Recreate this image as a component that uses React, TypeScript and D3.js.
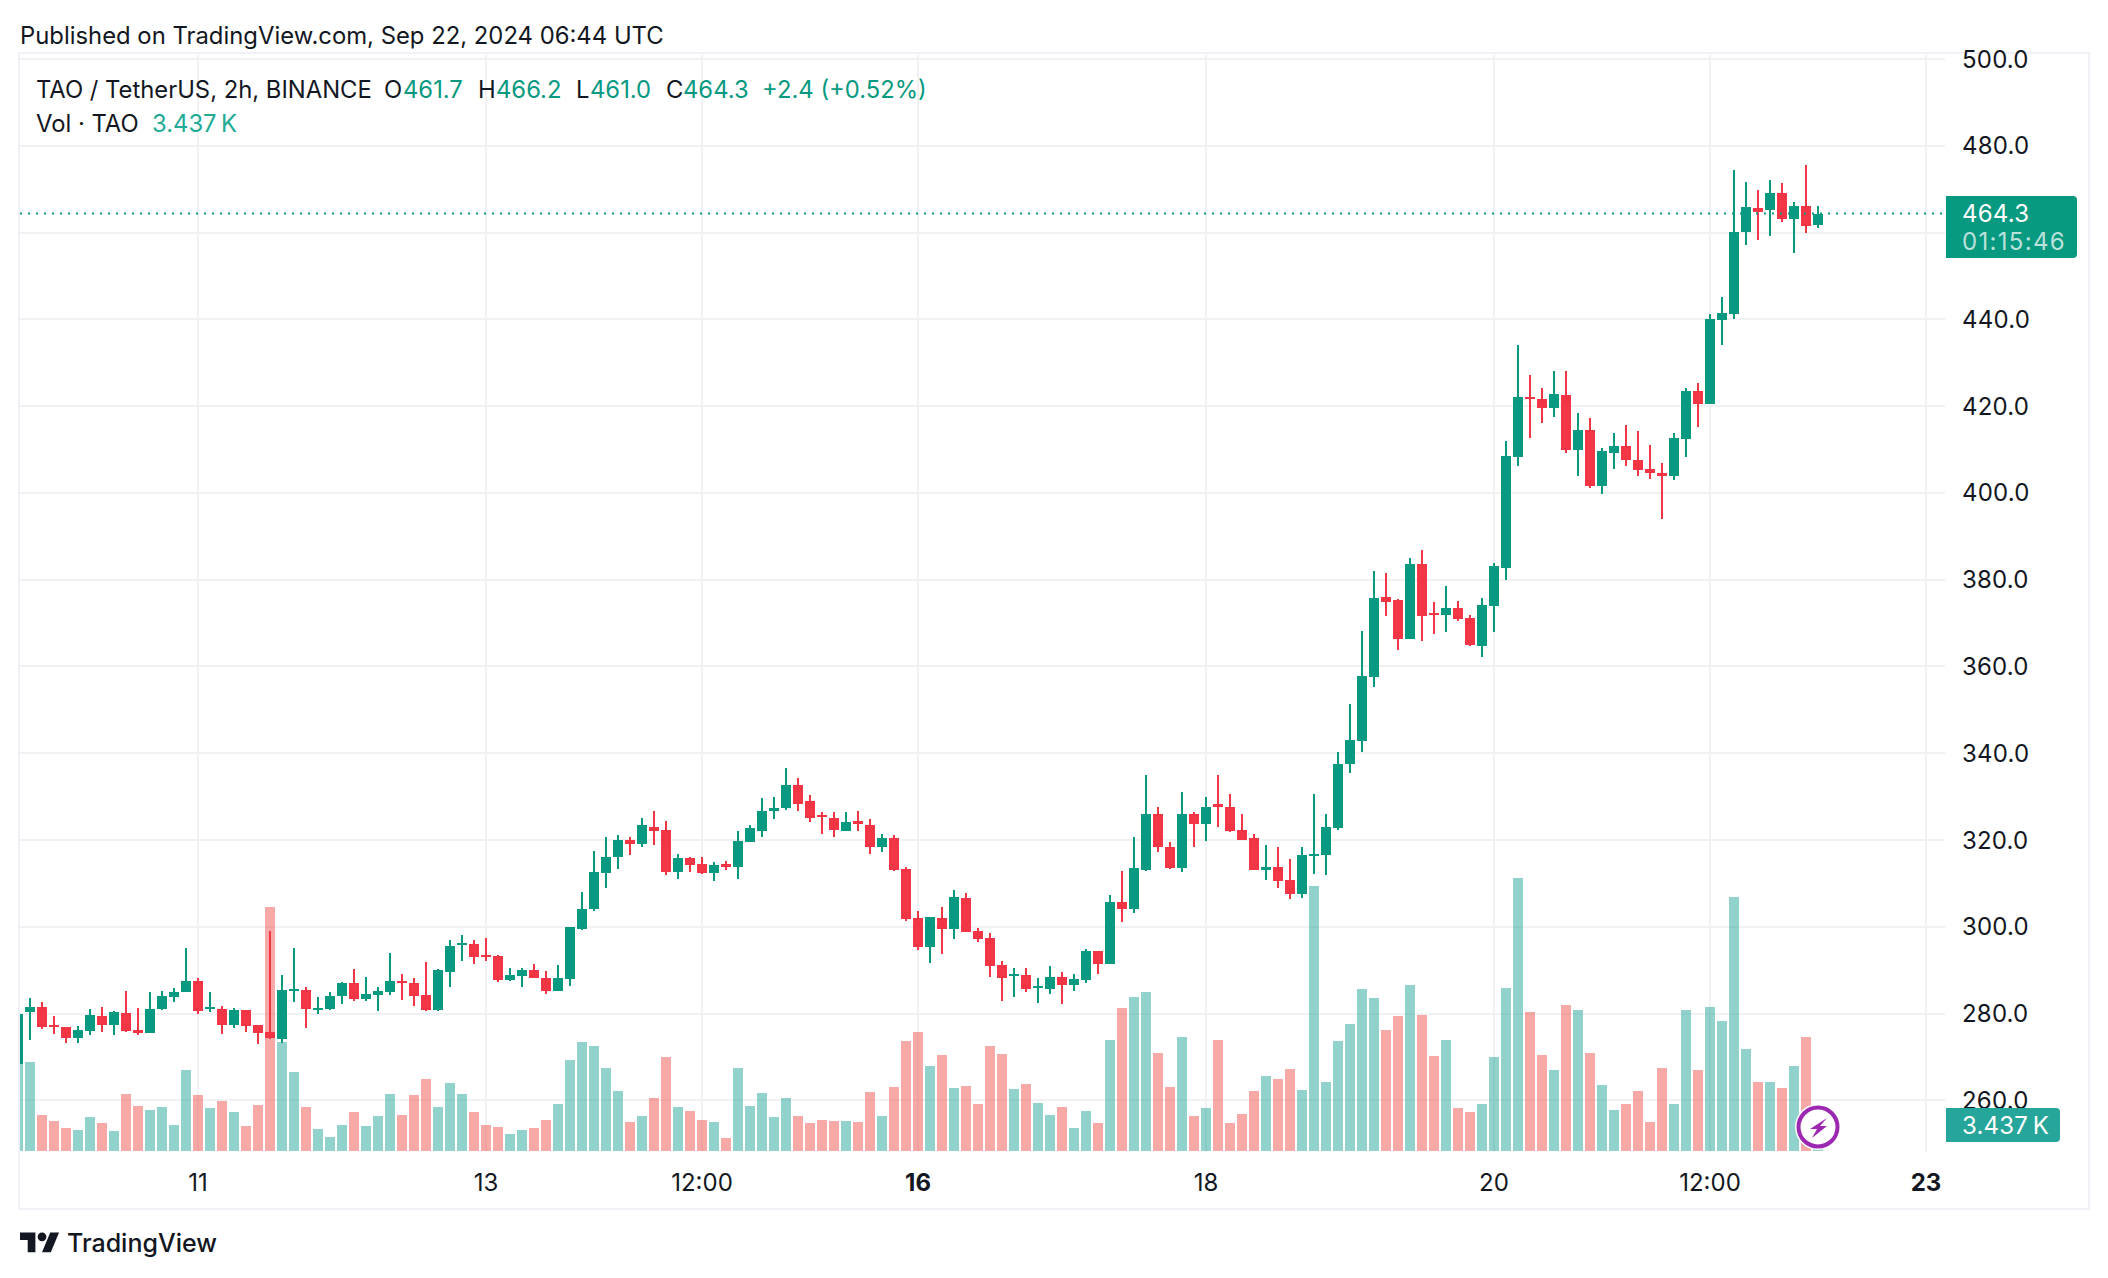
import React from "react";
import * as d3 from "d3";

// First entry is the candle cut off by the left edge.
const opens = [268.5,280.4,281.5,277.4,277.0,274.4,276.0,279.5,277.4,280.2,276.2,275.5,281.1,283.8,285.0,287.5,281.1,281.1,277.4,280.8,277.4,275.8,274.2,285.2,285.5,280.8,281.1,284.1,287.1,283.4,284.3,285.0,287.5,287.1,284.3,
280.8,289.6,295.8,296.0,293.5,293.3,287.7,288.7,290.0,288.2,285.2,288.0,299.5,304.1,312.3,316.0,320.1,319.2,323.1,322.4,312.6,315.8,314.4,312.3,314.4,313.7,319.5,322.2,326.8,327.3,332.6,328.9,325.7,325.0,322.2,324.3,323.4,318.3,320.4,
313.3,302.0,295.3,302.0,299.5,306.6,299.0,297.4,291.2,288.7,288.9,285.9,285.7,288.4,286.6,287.7,294.4,291.4,305.7,304.1,313.0,326.1,318.5,313.5,326.1,323.8,328.2,327.7,322.4,320.4,313.0,313.7,310.7,307.5,316.5,316.5,322.7,
337.5,342.8,357.5,375.9,375.3,366.3,383.6,372.3,371.8,373.5,371.2,364.7,373.9,382.8,408.2,422.2,421.6,419.5,422.5,410.0,414.4,401.7,409.3,410.7,407.7,405.4,404.7,404.0,412.4,423.6,
420.5,439.8,441.2,460.2,465.7,465.1,469.2,463.2,466.2,461.7];
const closes = [280.0,281.5,277.0,277.0,274.4,276.2,279.7,277.4,280.4,276.0,275.5,281.1,284.1,285.0,287.5,280.6,281.5,277.4,280.8,277.2,275.5,274.4,285.5,285.7,281.1,281.3,284.1,287.1,283.4,284.5,285.2,287.5,287.1,284.1,280.8,
290.0,295.6,296.2,293.0,293.0,287.7,288.9,290.0,288.2,285.2,288.2,299.9,304.1,312.6,316.2,320.1,319.2,323.4,322.2,312.6,315.8,314.2,312.3,314.2,313.9,319.7,322.7,326.8,327.5,332.6,328.4,325.0,325.2,322.4,324.1,323.8,318.5,320.4,313.0,
301.8,295.3,302.2,299.5,306.8,298.8,297.2,291.0,288.2,289.1,285.7,286.4,288.4,286.6,288.0,294.4,291.4,305.7,304.1,313.5,326.1,318.3,313.5,326.1,323.6,327.7,327.7,322.0,320.1,313.0,313.7,310.5,307.5,316.5,316.9,322.9,337.6,
343.0,357.8,375.8,374.8,366.3,383.6,371.6,371.8,373.5,370.9,364.9,374.1,383.1,408.4,422.0,421.8,419.5,422.7,409.8,414.4,401.7,409.6,410.7,407.5,405.2,404.5,404.0,412.6,423.6,420.4,
440.0,441.4,460.2,466.0,464.8,469.2,463.2,466.2,461.6,464.3];
const highs = [280.0,283.6,282.7,279.5,277.0,277.2,281.1,281.5,280.6,285.2,281.3,285.0,285.2,285.9,295.2,288.2,285.0,281.8,281.3,280.8,277.4,299.1,288.9,295.2,286.2,283.8,285.0,287.3,290.3,288.5,286.2,294.0,289.2,288.2,291.9,
290.3,296.9,298.1,296.9,297.4,293.5,290.5,290.5,291.4,289.8,291.2,299.9,308.0,317.4,320.6,321.1,320.8,325.0,326.6,324.5,316.9,316.2,316.2,314.9,315.1,322.2,323.4,329.8,330.0,336.7,334.4,330.3,326.4,326.4,326.4,326.8,324.8,321.3,321.1,
313.9,303.6,302.2,304.5,308.4,307.7,299.7,298.5,292.1,290.5,290.5,288.2,291.0,289.6,289.1,294.9,294.4,307.3,312.8,320.6,334.9,327.7,319.5,331.0,326.4,330.0,334.9,330.5,326.1,321.5,318.8,318.5,315.6,318.3,330.7,325.9,340.2,
351.3,368.1,381.9,381.5,375.5,385.0,386.8,374.8,378.5,375.0,371.8,375.8,383.8,411.9,434.0,427.1,424.1,428.0,428.0,418.5,417.2,410.3,413.9,415.6,414.2,411.0,406.8,413.7,424.1,425.3,
441.2,445.1,474.5,471.7,469.7,472.0,471.5,467.1,475.6,466.2];
const lows = [268.5,273.9,276.5,275.3,273.2,273.2,275.1,275.8,275.1,275.8,275.1,275.5,280.8,282.7,285.0,279.9,280.4,275.3,276.7,275.8,273.0,274.2,273.2,282.7,276.7,279.9,280.8,282.2,282.9,282.9,280.6,284.3,283.2,281.8,280.6,
280.6,286.1,292.1,291.4,292.1,287.3,287.5,286.1,288.2,284.5,285.2,286.4,299.2,303.6,308.9,313.3,316.5,318.3,318.8,311.9,311.0,312.6,312.1,310.5,313.0,311.0,319.5,320.8,324.8,327.0,326.6,324.1,321.3,320.6,322.0,322.0,316.7,317.2,312.8,
301.3,294.6,291.6,293.7,297.2,298.8,296.5,288.4,282.9,283.8,285.0,282.4,284.5,282.2,285.2,287.0,289.1,291.4,301.1,303.1,312.8,317.2,313.3,312.6,318.5,319.7,323.1,321.8,319.9,313.0,310.7,308.9,306.4,306.6,312.1,311.9,322.4,
335.5,340.2,355.2,371.6,363.8,366.3,365.8,367.5,367.9,370.4,364.7,362.1,367.9,379.9,406.1,412.6,416.1,417.4,409.2,404.0,401.2,399.7,405.4,406.1,403.8,403.1,393.9,402.9,408.2,415.3,
420.5,434.0,440.0,457.2,458.4,459.3,462.5,455.4,460.0,461.0];
const volumes = [176,178,72,60,46,42,68,56,40,114,90,82,88,52,162,112,86,100,78,50,92,488,218,158,88,44,28,52,78,50,70,114,72,112,144,
88,136,114,78,52,48,34,42,46,62,94,182,218,210,166,120,58,70,106,188,88,80,62,58,26,166,90,116,68,106,70,56,62,60,60,58,118,70,128,
220,238,170,192,126,130,94,210,194,124,134,96,72,88,46,80,56,222,286,308,318,196,128,228,70,86,222,56,74,120,150,144,164,122,530,138,220,
254,324,306,242,270,332,272,190,222,86,78,94,188,326,547,278,192,162,292,282,196,132,82,94,120,58,166,94,282,162,
288,260,508,204,138,138,126,170,228,3.437];

const priceTicks = [500,480,460,440,420,400,380,360,340,320,300,280,260];
const timeTicks = [
  { index: 14, label: "11", bold: false },
  { index: 38, label: "13", bold: false },
  { index: 56, label: "12:00", bold: false },
  { index: 74, label: "16", bold: true },
  { index: 98, label: "18", bold: false },
  { index: 122, label: "20", bold: false },
  { index: 140, label: "12:00", bold: false },
  { index: 158, label: "23", bold: true },
];
const lastPrice = 464.3;
const UP = "#089981";
const DOWN = "#F23645";
const INK = "#131722";
const GRID = "#F1F1F3";
const FONT = "Inter, sans-serif";

const x = d3.scaleLinear().domain([0, 150]).range([18, 1818]);
const y = d3.scaleLinear().domain([260, 500]).range([1100.4, 59]);
const yVol = d3.scaleLinear().domain([0, 547]).range([1151, 877.5]);

const T = (p: any) => (
  <text fontFamily={FONT} fontSize={24} fill={INK} dominantBaseline="central" {...p} />
);
const H = (p: any) => <T fontSize={23.8} y={89.5} {...p} />;

export default function App() {
  const candles = opens.map((o, i) => ({ o, c: closes[i], h: highs[i], l: lows[i], v: volumes[i], i }));
  return (
    <svg width={2108} height={1278} style={{ position: "absolute", left: 0, top: 0, background: "#fff" }}>
      <defs>
        <clipPath id="plot"><rect x={20} y={55} width={1925} height={1097} /></clipPath>
      </defs>
      <rect x={0} y={0} width={2108} height={1278} fill="#fff" />
      <text x={20} y={35} fontFamily={FONT} fontSize={23.85} fill={INK} dominantBaseline="central">
        Published on TradingView.com, Sep 22, 2024 06:44 UTC
      </text>

      <g shapeRendering="crispEdges">
        {priceTicks.map((p) => (
          <rect key={p} x={20} y={Math.round(y(p)) - 1} width={1925} height={2} fill={GRID} />
        ))}
        {timeTicks.map((t) => (
          <rect key={t.index} x={x(t.index + 1) - 1} y={55} width={2} height={1097} fill={GRID} />
        ))}
        <rect x={19} y={53} width={2070} height={1156} fill="none" stroke="#F0F0F6" strokeWidth={2} />
      </g>

      <g clipPath="url(#plot)" shapeRendering="crispEdges">
        {candles.map((d) => {
          const up = d.c >= d.o;
          const cx = x(d.i);
          const top = Math.round(yVol(d.v));
          return (
            <rect key={d.i} x={cx - 5} y={top} width={10} height={1151 - top}
              fill={up ? "#26A69A" : "#EF5350"} fillOpacity={0.5} />
          );
        })}
        {candles.map((d) => {
          const up = d.c >= d.o;
          const cx = x(d.i);
          const col = up ? UP : DOWN;
          const bt = Math.round(y(Math.max(d.o, d.c)));
          const bb = Math.round(y(Math.min(d.o, d.c)));
          const ht = Math.round(y(d.h));
          const lb = Math.round(y(d.l));
          return (
            <g key={d.i}>
              <rect x={cx - 1} y={ht} width={2} height={Math.max(lb - ht, 1)} fill={col} />
              <rect x={cx - 5} y={bt} width={10} height={Math.max(bb - bt, 2)} fill={col} />
            </g>
          );
        })}
      </g>

      <line x1={20} x2={1946} y1={Math.round(y(lastPrice)) - 0.5} y2={Math.round(y(lastPrice)) - 0.5}
        stroke={UP} strokeWidth={2} strokeDasharray="2 6" />

      {priceTicks.map((p) => (
        <T key={p} x={1962} y={y(p)} letterSpacing={0.2}>{p.toFixed(1)}</T>
      ))}
      {timeTicks.map((t) => (
        <T key={t.index} x={x(t.index + 1)} y={1182} textAnchor="middle" fontWeight={t.bold ? 700 : 400}>{t.label}</T>
      ))}

      <path d="M1946 196H2073a4 4 0 0 1 4 4V254a4 4 0 0 1 -4 4H1946Z" fill={UP} />
      <T x={1962} y={213} fill="#fff" letterSpacing={0.2}>464.3</T>
      <T x={1962} y={241} fill="#fff" fillOpacity={0.72} letterSpacing={1.3}>01:15:46</T>

      <path d="M1946 1108H2056a4 4 0 0 1 4 4V1138a4 4 0 0 1 -4 4H1946Z" fill="#26A69A" />
      <T x={1962} y={1125} fill="#fff" letterSpacing={0.2}>3.437{"\u2009"}K</T>

      <g transform="translate(1818,1127)">
        <circle r={23} fill="#fff" />
        <circle r={19.5} fill="#fff" stroke="#9C27B0" strokeWidth={4} />
        <path d="M9 -9L-8 2L-1 2L-6 11L9 -1L2 -1Z" fill="#9C27B0" />
      </g>

      <H x={36}>TAO / TetherUS, 2h, BINANCE</H>
      <H x={384}>O</H>
      <H x={403} fill={UP}>461.7</H>
      <H x={478}>H</H>
      <H x={496} fill={UP}>466.2</H>
      <H x={576}>L</H>
      <H x={590} fill={UP}>461.0</H>
      <H x={666}>C</H>
      <H x={683} fill={UP}>464.3</H>
      <H x={762} fill={UP}>+2.4 (+0.52%)</H>
      <T x={36} y={123} fontSize={23.8}>Vol · TAO</T>
      <T x={152} y={123} fontSize={23.8} fill="#22AB94">3.437{"\u2009"}K</T>

      <g transform="translate(20,1228) scale(1.1)" fill={INK}>
        <path d="M14 22H7V11H0V4h14v18zM28 22h-8l7.5-18h8L28 22z" />
        <circle cx={20} cy={8} r={4} />
      </g>
      <T x={67} y={1243} fontSize={25} fontWeight={500}>TradingView</T>
    </svg>
  );
}
